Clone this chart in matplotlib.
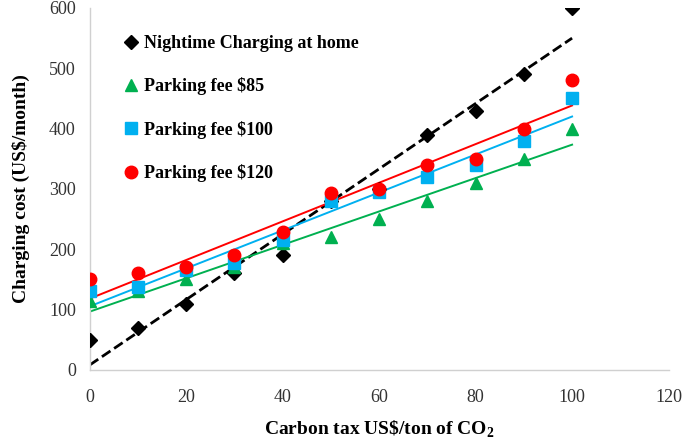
import numpy as np
import matplotlib as mpl
mpl.use( 'Agg' )
import matplotlib.pyplot as plt

# data
carbon_tax = [ 0, 10, 20, 30, 40, 50, 60, 70, 80, 90, 100 ]
home_night = [ 50, 70, 110, 160, 190, 280, 300, 390, 430, 490, 600 ]
fee_85 = [ 115, 130, 150, 170, 210, 220, 250, 280, 310, 350, 400 ]
fee_100 = [ 130, 137, 165, 178, 215, 280, 295, 320, 340, 380, 450 ]
fee_120 = [ 150, 160, 170, 190, 228, 293, 300, 340, 350, 400, 480 ]

labels = [ 'Nightime Charging at home', 'Parking fee $85', 'Parking fee $100', 'Parking fee $120' ]
x_ticks = [ 0, 20, 40, 60, 80, 100, 120 ]
y_ticks = [ 0, 100, 200, 300, 400, 500, 600 ]

plt.rcParams['font.family'] = 'Liberation Serif'
plt.rcParams['mathtext.fontset'] = 'custom'
plt.rcParams['mathtext.rm'] = 'Liberation Serif:bold'

fig = plt.figure( figsize = (6.85, 4.43), dpi = 100 )
ax = fig.add_axes( [ 0.131, 0.165, 0.845, 0.817 ] )

series = [
    ( home_night, 'D', 'black', 7, '--', 2.0 ),
    ( fee_85, '^', '#00B050', 8, '-', 1.4 ),
    ( fee_100, 's', '#00B0F0', 8, '-', 1.4 ),
    ( fee_120, 'o', '#FF0000', 9, '-', 1.4 ),
]

x = np.array( carbon_tax )
for (vals, mk, col, ms, ls, lw), lab in zip( series, labels ):
    ax.plot( x, vals, linestyle = 'none', marker = mk, color = col, markersize = ms, label = lab, zorder = 3 )
    # linear trend line
    p = np.polyfit( x, vals, 1 )
    ax.plot( x, np.polyval( p, x ), linestyle = ls, color = col, linewidth = lw, zorder = 2 )

ax.set_xlim( 0, 120 )
ax.set_ylim( 0, 600 )
ax.set_xticks( x_ticks )
ax.set_yticks( y_ticks )
ax.tick_params( length = 0, labelsize = 13, colors = '#333333' )
ax.tick_params( axis = 'x', pad = 14 )
ax.tick_params( axis = 'y', pad = 10 )

for s in [ 'top', 'right' ]:
    ax.spines[s].set_visible( False )
for s in [ 'left', 'bottom' ]:
    ax.spines[s].set_color( '#d0d0d0' )
    ax.spines[s].set_linewidth( 1.0 )

ax.set_xlabel( r'Carbon tax US\$/ton of CO$_\mathrm{2}$', fontsize = 14, fontweight = 'bold', labelpad = 9 )
ax.set_ylabel( 'Charging cost (US$/month)', fontsize = 14, fontweight = 'bold', labelpad = 14 )

leg = ax.legend( loc = 'upper left', bbox_to_anchor = ( 0.04, 0.945 ), frameon = False,
                 prop = { 'weight': 'bold', 'size': 13 }, labelspacing = 1.4,
                 handletextpad = 0.15, handlelength = 1.2, borderaxespad = 0 )

fig.savefig( 'out.png', dpi = 100 )
